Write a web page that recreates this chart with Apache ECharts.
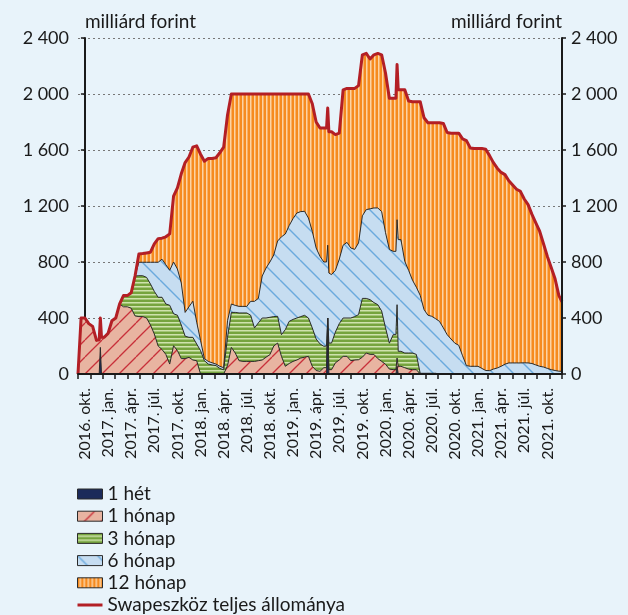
<!DOCTYPE html>
<html>
<head>
<meta charset="utf-8">
<script src="https://cdn.jsdelivr.net/npm/echarts@6/dist/echarts.min.js"></script>
<style>
  html, body { margin: 0; padding: 0; background: #e8f3fa; }
  #chart { width: 628px; height: 615px; }
</style>
</head>
<body>
<div id="chart"></div>
<script>
// x: months counted from 2016. okt.
var months = [
  -0.9, -0.5, 0, 0.5, 1, 1.5, 1.85, 2, 2.15, 2.5,
  3, 3.5, 4, 4.5, 5, 5.5, 6, 6.5, 7, 7.5,
  8, 8.5, 9, 9.5, 10, 10.5, 11, 11.5, 12, 12.5,
  13, 13.5, 14, 14.5, 15, 15.5, 16, 16.5, 17, 17.5,
  18, 18.5, 19, 19.5, 20, 20.5, 21, 21.5, 22, 22.5,
  23, 23.5, 24, 24.5, 25, 25.5, 26, 26.5, 27, 27.5,
  28, 28.5, 29, 29.5, 30, 30.5, 31, 31.35, 31.5, 31.65,
  32, 32.5, 33, 33.5, 34, 34.5, 35, 35.5, 36, 36.5,
  37, 37.5, 38, 38.5, 39, 39.5, 40, 40.35, 40.5, 40.65,
  41, 41.5, 42, 42.5, 43, 43.5, 44, 44.5, 45, 45.5,
  46, 46.5, 47, 47.5, 48, 48.5, 49, 49.5, 50, 50.5,
  51, 51.5, 52, 52.5, 53, 53.5, 54, 54.5, 55, 55.5,
  56, 56.5, 57, 57.5, 58, 58.5, 59, 59.5, 60, 60.5,
  61, 61.5, 61.9
];

var het = [
  0, 0, 0, 0, 0, 0, 0, 190, 0, 0,
  0, 0, 0, 0, 0, 0, 0, 0, 0, 0,
  0, 0, 0, 0, 0, 0, 0, 0, 0, 0,
  0, 0, 0, 0, 0, 0, 0, 0, 0, 0,
  0, 0, 0, 0, 0, 0, 0, 0, 0, 0,
  0, 0, 0, 0, 0, 0, 0, 0, 0, 0,
  0, 0, 0, 0, 0, 0, 0, 0, 400, 0,
  0, 0, 0, 0, 0, 0, 0, 0, 0, 0,
  0, 0, 0, 0, 0, 0, 0, 0, 55, 0,
  0, 0, 0, 0, 0, 0, 0, 0, 0, 0,
  0, 0, 0, 0, 0, 0, 0, 0, 0, 0,
  0, 0, 0, 0, 0, 0, 0, 0, 0, 0,
  0, 0, 0, 0, 0, 0, 0, 0, 0, 0,
  0, 0, 0
];

var honap1 = [
  0, 400, 400, 360, 340, 240, 245, 210, 262, 262,
  290, 380, 400, 500, 480, 480, 470, 415, 410, 410,
  400, 350, 286, 200, 175, 140, 71, 202, 167, 110,
  110, 119, 100, 95, 0, 0, 0, 0, 0, 0,
  0, 60, 190, 150, 95, 90, 90, 90, 90, 95,
  100, 120, 138, 200, 221, 126, 55, 75, 90, 100,
  114, 120, 126, 55, 25, 19, 45, 45, 0, 31,
  31, 80, 100, 126, 126, 95, 100, 102, 120, 150,
  140, 140, 110, 90, 70, 35, 31, 31, 59, 55,
  55, 45, 35, 31, 31, 0, 0, 0, 0, 0,
  0, 0, 0, 0, 0, 0, 0, 0, 0, 0,
  0, 0, 0, 0, 0, 0, 0, 0, 0, 0,
  0, 0, 0, 0, 0, 0, 0, 0, 0, 0,
  0, 0, 0
];

var honap3 = [
  0, 0, 0, 0, 0, 0, 0, 0, 0, 0,
  0, 0, 0, 0, 80, 80, 110, 285, 292, 292,
  290, 293, 304, 348, 373, 360, 420, 228, 253, 240,
  160, 143, 162, 119, 167, 95, 71, 65, 60, 40,
  30, 202, 250, 290, 341, 346, 346, 330, 239, 270,
  300, 280, 267, 210, 191, 155, 262, 301, 300, 300,
  296, 299, 274, 274, 225, 196, 153, 155, 0, 190,
  190, 220, 260, 274, 274, 305, 310, 322, 420, 390,
  391, 370, 385, 360, 260, 185, 250, 250, 381, 107,
  107, 105, 115, 119, 109, 5, 5, 5, 5, 5,
  0, 0, 0, 0, 0, 0, 0, 0, 0, 0,
  0, 0, 0, 0, 0, 0, 0, 0, 0, 0,
  0, 0, 0, 0, 0, 0, 0, 0, 0, 0,
  0, 0, 0
];

var honap6 = [
  0, 0, 0, 0, 0, 0, 0, 0, 0, 0,
  0, 0, 0, 0, 0, 0, 0, 0, 96, 96,
  108, 155, 208, 250, 272, 280, 250, 370, 330, 300,
  170, 218, 258, 156, 73, 15, 19, 15, 11, 15,
  15, 118, 60, 50, 47, 47, 47, 99, 190, 175,
  300, 357, 395, 440, 538, 699, 683, 684, 720, 750,
  750, 743, 714, 690, 650, 625, 602, 600, 520, 500,
  489, 440, 460, 520, 540, 500, 480, 512, 590, 634,
  649, 676, 691, 710, 680, 670, 595, 595, 607, 798,
  798, 655, 590, 520, 480, 557, 455, 415, 407, 390,
  376, 330, 281, 250, 220, 205, 130, 60, 55, 55,
  55, 40, 25, 24, 35, 43, 55, 70, 79, 79,
  79, 79, 80, 79, 75, 65, 55, 50, 40, 31,
  25, 20, 19
];

var honap12 = [
  0, 0, 0, 0, 0, 0, 0, 0, 0, 0,
  0, 0, 0, 0, 0, 0, 0, 0, 59, 62,
  67, 72, 132, 169, 150, 200, 260, 470, 580, 780,
  1070, 1070, 1100, 1260, 1330, 1410, 1450, 1460, 1474, 1525,
  1575, 1470, 1500, 1510, 1517, 1517, 1517, 1481, 1481, 1460,
  1300, 1243, 1200, 1150, 1050, 1020, 1000, 940, 890, 850,
  840, 838, 886, 911, 900, 917, 957, 957, 980, 1010,
  1020, 970, 900, 1110, 1100, 1140, 1150, 1124, 1150, 1116,
  1070, 1094, 1104, 1120, 1140, 1080, 1094, 1094, 1108, 1070,
  1070, 1225, 1210, 1275, 1325, 1383, 1370, 1375, 1383, 1400,
  1419, 1460, 1444, 1470, 1500, 1515, 1550, 1607, 1560, 1555,
  1555, 1570, 1580, 1536, 1475, 1427, 1385, 1354, 1301, 1271,
  1241, 1226, 1170, 1131, 1065, 1015, 965, 880, 800, 729,
  655, 540, 497
];

var tickLabels = [
  '2016. okt.', '2017. jan.', '2017. ápr.', '2017. júl.', '2017. okt.',
  '2018. jan.', '2018. ápr.', '2018. júl.', '2018. okt.', '2019. jan.',
  '2019. ápr.', '2019. júl.', '2019. okt.', '2020. jan.', '2020. ápr.',
  '2020. júl.', '2020. okt.', '2021. jan.', '2021. ápr.', '2021. júl.',
  '2021. okt.'
];

var names = ['1 hét', '1 hónap', '3 hónap', '6 hónap', '12 hónap'];
var totalName = 'Swapeszköz teljes állománya';

var FONT = 'Lato';
var TXT = '#1a1a1a';
var xMin = -0.9, xMax = 61.9;

function tile(w, h, draw) {
  var c = document.createElement('canvas');
  c.width = w; c.height = h;
  draw(c.getContext('2d'));
  return { image: c, repeat: 'repeat' };
}

var pinkFill = tile(17, 17, function (g) {
  g.fillStyle = '#e8b4a1'; g.fillRect(0, 0, 17, 17);
  g.strokeStyle = '#c8303a'; g.lineWidth = 1.3;
  [-17, 0, 17].forEach(function (o) {
    g.beginPath(); g.moveTo(o, 17); g.lineTo(o + 17, 0); g.stroke();
  });
});
var greenFill = tile(4, 4, function (g) {
  g.fillStyle = '#76a43e'; g.fillRect(0, 0, 4, 4);
  g.fillStyle = '#cfe2ad'; g.fillRect(0, 2, 4, 1);
  g.fillStyle = '#a3c577'; g.fillRect(0, 3, 4, 1);
});
var blueFill = tile(20, 20, function (g) {
  g.fillStyle = '#c6ddf1'; g.fillRect(0, 0, 20, 20);
  g.strokeStyle = '#6aaade'; g.lineWidth = 1.4;
  [-20, 0, 20].forEach(function (o) {
    g.beginPath(); g.moveTo(o, 0); g.lineTo(o + 20, 20); g.stroke();
  });
});
var orangeFill = tile(4, 4, function (g) {
  g.fillStyle = '#f68b1f'; g.fillRect(0, 0, 4, 4);
  g.fillStyle = '#fcd3a4'; g.fillRect(2, 0, 1, 4);
  g.fillStyle = '#f9b064'; g.fillRect(3, 0, 1, 4);
});
var navyFill = '#1b2a5a';

var fills = [navyFill, pinkFill, greenFill, blueFill, orangeFill];
var layers = [het, honap1, honap3, honap6, honap12];

// cumulative tops, so each area can be filled down to zero and painted top-first
var cum = [];
var running = months.map(function () { return 0; });
layers.forEach(function (arr) {
  running = running.map(function (v, i) { return v + arr[i]; });
  cum.push(running.slice());
});
var total = cum[4];

function pairs(arr) { return months.map(function (m, i) { return [m, arr[i]]; }); }

var series = [];
for (var s = 4; s >= 0; s--) {
  series.push({
    name: names[s],
    type: 'line',
    data: pairs(cum[s]),
    symbol: 'none',
    showSymbol: false,
    silent: true,
    itemStyle: { color: s === 0 ? navyFill : '#333333' },
    lineStyle: { color: '#2a2a2a', width: 1 },
    areaStyle: { color: fills[s], opacity: 1 }
  });
}
series.push({
  name: totalName,
  type: 'line',
  data: pairs(total),
  symbol: 'none',
  showSymbol: false,
  silent: true,
  itemStyle: { color: '#b31f25' },
  lineStyle: { color: '#b31f25', width: 3, join: 'round' }
});

var tickVals = [];
for (var k = 0; k <= 39; k++) tickVals.push(xMin + k * (xMax - xMin) / 39);
var labelVals = tickLabels.map(function (l, i) { return i * 3; });

function fmtNum(v) {
  if (v >= 1000) return Math.floor(v / 1000) + ' ' + ('00' + (v % 1000)).slice(-3);
  return String(v);
}

var legendData = names.map(function (n, i) {
  return {
    name: n,
    icon: 'rect',
    itemStyle: { color: fills[i], borderColor: '#2a2a2a', borderWidth: 1 }
  };
});
legendData.push({
  name: totalName,
  icon: 'path://M0,0L100,0L100,12L0,12Z',
  itemStyle: { color: '#b31f25', borderWidth: 0 }
});

var chart = echarts.init(document.getElementById('chart'));
chart.setOption({
  animation: false,
  backgroundColor: '#e8f3fa',
  textStyle: { fontFamily: FONT, color: TXT },
  grid: { left: 78, right: 66, top: 38, bottom: 241 },
  legend: {
    orient: 'vertical',
    left: 77,
    top: 484,
    padding: 0,
    height: 140,
    itemWidth: 25,
    itemHeight: 10,
    itemGap: 2.2,
    selectedMode: false,
    data: legendData,
    textStyle: { fontFamily: FONT, fontSize: 19, color: TXT, lineHeight: 20 }
  },
  xAxis: {
    type: 'value',
    min: xMin,
    max: xMax,
    z: 10,
    axisLine: { show: true, onZero: false, lineStyle: { color: TXT, width: 2 } },
    axisTick: { show: true, customValues: tickVals, length: 5, lineStyle: { color: TXT, width: 1.5 } },
    axisLabel: {
      customValues: labelVals,
      rotate: 90,
      margin: 14,
      fontSize: 16,
      fontFamily: FONT,
      color: TXT,
      formatter: function (v) { return tickLabels[Math.round(v / 3)] || ''; }
    },
    splitLine: { show: false }
  },
  yAxis: [
    {
      type: 'value', min: 0, max: 2400, interval: 400, position: 'left',
      name: 'milliárd forint', nameLocation: 'end', nameGap: 7,
      nameTextStyle: { align: 'left', fontSize: 19, fontFamily: FONT, color: TXT },
      axisLine: { show: true, lineStyle: { color: TXT, width: 2 } },
      axisTick: { show: true, length: 4, lineStyle: { color: TXT, width: 1.5 } },
      axisLabel: { margin: 9, fontSize: 18, fontFamily: FONT, color: TXT, formatter: fmtNum },
      splitLine: { show: true, lineStyle: { color: '#777777', width: 1, type: [2, 3] } }
    },
    {
      type: 'value', min: 0, max: 2400, interval: 400, position: 'right', z: 10,
      name: 'milliárd forint', nameLocation: 'end', nameGap: 7,
      nameTextStyle: { align: 'right', fontSize: 19, fontFamily: FONT, color: TXT },
      axisLine: { show: true, lineStyle: { color: TXT, width: 2 } },
      axisTick: { show: true, length: 4, lineStyle: { color: TXT, width: 1.5 } },
      axisLabel: { margin: 9, fontSize: 18, fontFamily: FONT, color: TXT, formatter: fmtNum },
      splitLine: { show: false }
    }
  ],
  series: series
});
</script>
</body>
</html>
